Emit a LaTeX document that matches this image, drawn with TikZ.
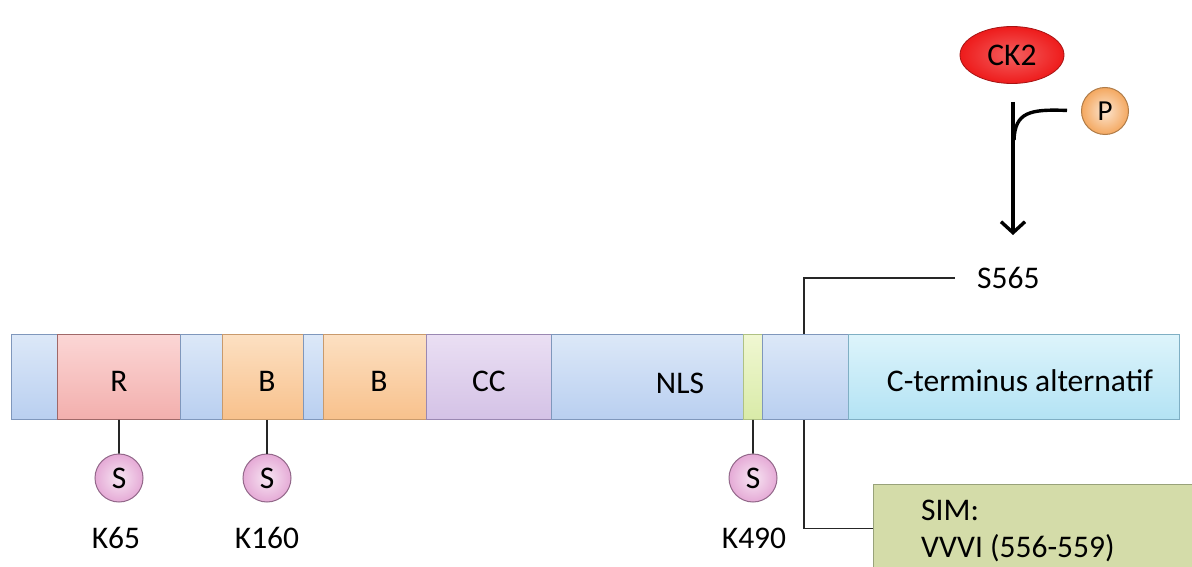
\documentclass[tikz,border=0pt]{standalone}
\usepackage{fontspec}
\setmainfont{Carlito}
\usetikzlibrary{arrows.meta,shapes.geometric}

\definecolor{linkT}{HTML}{DCE8F8}
\definecolor{linkB}{HTML}{B9CFF0}
\definecolor{linkD}{HTML}{7F97BC}
\definecolor{rT}{HTML}{FBD6D5}
\definecolor{rB}{HTML}{F3AFAD}
\definecolor{rD}{HTML}{A06868}
\definecolor{bT}{HTML}{FCE0C2}
\definecolor{bB}{HTML}{F8C18C}
\definecolor{bD}{HTML}{C99A6C}
\definecolor{ccT}{HTML}{EADFF3}
\definecolor{ccB}{HTML}{D4C2E6}
\definecolor{ccD}{HTML}{9A88B2}
\definecolor{gT}{HTML}{F0F7D2}
\definecolor{gB}{HTML}{D9EBA8}
\definecolor{gD}{HTML}{AFC184}
\definecolor{ctT}{HTML}{DDF4FB}
\definecolor{ctB}{HTML}{B3E3F4}
\definecolor{ctD}{HTML}{7FAFC4}
\definecolor{simF}{HTML}{D4DCA9}
\definecolor{simD}{HTML}{98A27A}
\definecolor{sumoC}{HTML}{E5AAD6}
\definecolor{sumoD}{HTML}{93688A}
\definecolor{phosC}{HTML}{F4A860}
\definecolor{phosD}{HTML}{B07C48}
\definecolor{ckC}{HTML}{EE1B1B}

\newcommand\bigfont{\fontsize{31.5}{36}\selectfont}

\begin{document}
\begin{tikzpicture}[x=1pt,y=-1pt,
  lbl/.style={font=\bigfont, inner sep=0pt},
  seg/.style args={#1/#2/#3/#4}{draw=#4, line width=0.9pt, top color=#2, bottom color=#3,
    minimum width=#1, minimum height=85pt, inner sep=0pt, anchor=north west,
    text height=30pt, text depth=0pt, font=\bigfont},
  sumo/.style={circle, draw=sumoD, line width=1pt, inner color=sumoC!30, outer color=sumoC,
    minimum size=48pt, inner sep=0pt, font=\bigfont},
  stem/.style={line width=1.6pt, black!85},
  ck/.style={line width=3.4pt, black}
]
\useasboundingbox (0,0) rectangle (1192,567);
\fill[white] (0,0) rectangle (1192,567);

% protein domains, left to right
\node[seg=46pt/linkT/linkB/linkD]   (l1)   at (11,334)  {};
\node[seg=123pt/rT/rB/rD]           (rd)   at (57,334)  {R};
\node[seg=42pt/linkT/linkB/linkD]   (l2)   at (180,334) {};
\node[seg=81pt/bT/bB/bD]            (b1)   at (222,334) {\hspace*{8pt}B};
\node[seg=20pt/linkT/linkB/linkD]   (l3)   at (303,334) {};
\node[seg=103pt/bT/bB/bD]           (b2)   at (323,334) {\hspace*{8pt}B};
\node[seg=125pt/ccT/ccB/ccD]        (cc)   at (426,334) {CC};
\node[seg=192pt/linkT/linkB/linkD]  (nls)  at (551,334) {};
\node[seg=19pt/gT/gB/gD]            (gr)   at (743,334) {};
\node[seg=86pt/linkT/linkB/linkD]   (l4)   at (762,334) {};
\node[seg=331pt/ctT/ctB/ctD]        (ct)   at (848,334) {\hspace*{12pt}C-terminus alternatif};
\node[lbl, anchor=base] (nlslbl) at (680,393) {NLS};

% SUMO sites
\node[sumo] (s1) at (119,478) {S};
\node[sumo] (s2) at (267,478) {S};
\node[sumo] (s3) at (753,478) {S};
\node[lbl] (k65)  at (116,538) {K65};
\node[lbl] (k160) at (267,538) {K160};
\node[lbl] (k490) at (754,538) {K490};
\draw[stem] (rd.south) -- (s1.north);
\draw[stem] (b1.south -| s2) -- (s2.north);
\draw[stem] (gr.south) -- (s3.north);

% phosphosite S565
\coordinate (site) at (804,334);
\node[lbl, anchor=west] (s565) at (977,278) {S565};
\draw[stem] (site) |- ([xshift=-22pt]s565.west);

% SUMO-interacting motif
\coordinate (simsite) at (804,420);
\node[draw=simD, line width=0.9pt, fill=simF, minimum width=330pt, minimum height=88pt,
      anchor=north west, inner sep=0pt] (sim) at (873,484) {};
\node[lbl, anchor=base west] (simtxt) at (921,520) {SIM:};
\node[lbl, anchor=base west] (simseq) at (921,557) {VVVI (556-559)};
\draw[stem] (simsite) |- (sim.west);

% CK2 phosphorylation
\node[ellipse, draw=ckC!70!black, line width=0.8pt, inner color=ckC!70!white, outer color=ckC,
      minimum width=104pt, minimum height=57pt, inner sep=0pt, font=\bigfont]
      (ck2) at (1012,55) {CK2};
\node[circle, draw=phosD, line width=1pt, inner color=phosC!30, outer color=phosC,
      minimum size=47pt, inner sep=0pt, font=\fontsize{29}{32}\selectfont] (p) at (1105,111) {P};
\coordinate (atop) at (1013,102);
\coordinate (atip) at (1013,235);
\draw[ck, -{Straight Barb[length=11pt,width=24pt,line width=3.4pt]}] (atop) -- (atip);
\draw[ck, shorten <=14pt] (p.west) .. controls (1030,109) and (1015,112) .. (1014,140);
\end{tikzpicture}
\end{document}
